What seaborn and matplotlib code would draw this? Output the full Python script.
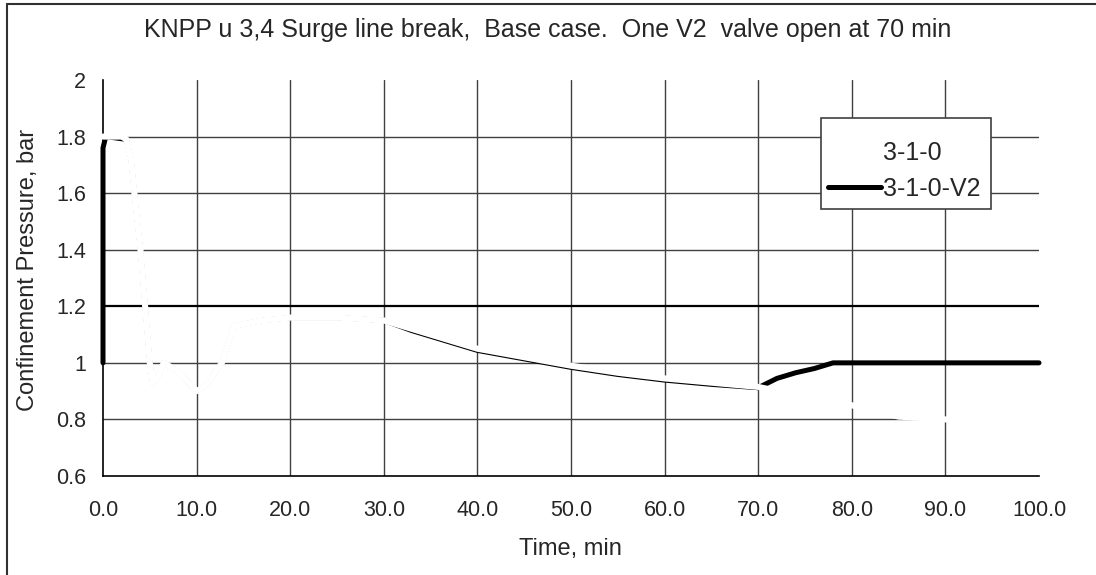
import matplotlib
matplotlib.use("Agg")
import matplotlib.pyplot as plt
from matplotlib.lines import Line2D
from matplotlib.patches import Rectangle
import pandas as pd
import seaborn as sns

# series 3-1-0 (drawn white in the original chart)
time_310 = [0, 1, 2, 2.5, 3, 3.5, 4, 4.5, 5, 5.3, 5.8, 6.5, 8, 10, 11, 12.7, 14, 17, 20, 25, 30,
            33, 36, 40, 45, 50, 55, 60, 65, 70, 75, 80, 85, 90, 95, 100]
pres_310 = [1.8, 1.8, 1.8, 1.79, 1.72, 1.55, 1.4, 1.2, 1.0, 0.93, 0.95, 1.0, 0.97, 0.9, 0.92, 1.0, 1.13, 1.15, 1.16, 1.16, 1.15,
            1.12, 1.09, 1.05, 1.02, 0.99, 0.965, 0.945, 0.93, 0.915, 0.88, 0.85, 0.81, 0.80, 0.80, 0.80]

# series 3-1-0-V2 (black), lies just under 3-1-0 until the valve opens at 70 min
time_v2 = [0, 0, 0.3, 2.5, 3, 3.5, 4, 4.5, 5, 5.3, 5.8, 6.5, 8, 10, 11, 12.7, 14, 17, 20, 25, 30,
           33, 36, 40, 45, 50, 55, 60, 65, 70,
           72, 74, 76, 78, 80, 90, 100]
pres_v2 = [1.0, 1.76, 1.8, 1.79, 1.72, 1.55, 1.4, 1.2, 1.0, 0.93, 0.95, 1.0, 0.97, 0.9, 0.92, 1.0, 1.13, 1.15, 1.16, 1.16, 1.15,
           1.114, 1.084, 1.044, 1.014, 0.984, 0.959, 0.939, 0.924, 0.912,
           0.945, 0.965, 0.98, 1.0, 1.0, 1.0, 1.0]

x_ticks = [0, 10, 20, 30, 40, 50, 60, 70, 80, 90, 100]
y_ticks = [0.6, 0.8, 1.0, 1.2, 1.4, 1.6, 1.8, 2.0]
y_tick_labels = ['0.6', '0.8', '1', '1.2', '1.4', '1.6', '1.8', '2']

df_310 = pd.DataFrame({'time': time_310, 'pressure': pres_310})
df_v2 = pd.DataFrame({'time': time_v2, 'pressure': pres_v2})

sns.set_style("white")
plt.rcParams['font.family'] = ['Liberation Sans', 'DejaVu Sans']

fig = plt.figure(figsize=(10.96, 5.75), dpi=100)
ax = fig.add_axes([103/1096, 1-476/575, 936/1096, 396/575])

sns.lineplot(data=df_v2, x='time', y='pressure', ax=ax, color='black', linewidth=3.6,
             estimator=None, sort=False, zorder=3, clip_on=False)
sns.lineplot(data=df_310, x='time', y='pressure', ax=ax, color='white', linewidth=4.4,
             estimator=None, sort=False, zorder=4, clip_on=False)

ax.set_xlim(0, 100)
ax.set_ylim(0.6, 2.0)
ax.set_xticks(x_ticks)
ax.set_xticklabels(['%.1f' % v for v in x_ticks])
ax.set_yticks(y_ticks)
ax.set_yticklabels(y_tick_labels)
ax.tick_params(axis='both', direction='out', length=5, width=1, color='black', labelsize=15.5)
ax.tick_params(axis='x', pad=12)
ax.tick_params(axis='y', pad=7)

# grid lines (not on 2.0 / 100 / axes)
ax.grid(True, color='#404040', linewidth=1, zorder=1)
ax.set_axisbelow(True)
for v, gl in zip(y_ticks, ax.get_ygridlines()):
    if v in (0.6, 2.0):
        gl.set_visible(False)
    if v == 1.2:
        gl.set_color('black')
        gl.set_linewidth(1.6)
for v, gl in zip(x_ticks, ax.get_xgridlines()):
    if v in (0, 100):
        gl.set_visible(False)

for side in ['top', 'right']:
    ax.spines[side].set_visible(False)
for side in ['left', 'bottom']:
    ax.spines[side].set_color('black')
    ax.spines[side].set_linewidth(1.2)

ax.set_xlabel('')
ax.set_ylabel('')
fig.text(570/1096, 1-549/575, 'Time, min', ha='center', va='center', fontsize=17)
fig.text(28/1096, 1-270/575, 'Confinement Pressure, bar', ha='center', va='center',
         rotation=90, fontsize=17)
fig.text(548/1096, 1-30/575, 'KNPP u 3,4 Surge line break,  Base case.  One V2  valve open at 70 min',
         ha='center', va='center', fontsize=18)

# legend
fig.add_artist(Rectangle((821/1096, 1-209/575), 170/1096, 91/575, transform=fig.transFigure,
                         facecolor='white', edgecolor='#404040', linewidth=1.2, zorder=5))
handles = [Line2D([], [], color='white', linewidth=3.6), Line2D([], [], color='black', linewidth=3.6)]
leg = fig.legend(handles, ['3-1-0', '3-1-0-V2'], loc='center left',
                 bbox_to_anchor=(828/1096, 1-171/575), frameon=False, fontsize=18,
                 handlelength=2.1, handletextpad=0.1, borderpad=0, borderaxespad=0, labelspacing=0.45)
leg.set_zorder(6)

# outer frame
fig.add_artist(Line2D([7/1096, 7/1096], [0, 1-4/575], transform=fig.transFigure, color='#303030', linewidth=1.5))
fig.add_artist(Line2D([7/1096, 1], [1-4/575, 1-4/575], transform=fig.transFigure, color='#303030', linewidth=1.5))

fig.savefig('out.png', dpi=100)
